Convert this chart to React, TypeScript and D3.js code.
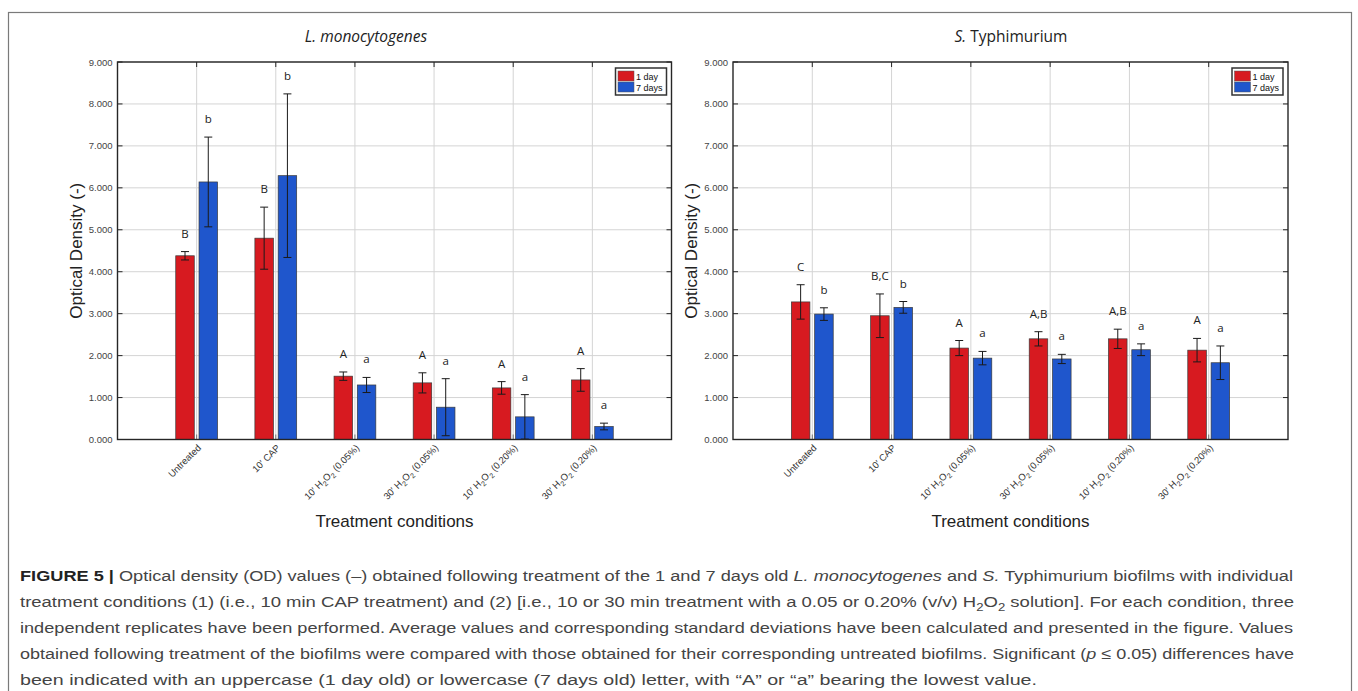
import * as d3 from 'd3';

// treatment conditions (x categories)
const conditions = ['Untreated', '10′ CAP', '10′ H2O2 (0.05%)', '30′ H2O2 (0.05%)', '10′ H2O2 (0.20%)', '30′ H2O2 (0.20%)'];
const yTicks = [0, 1, 2, 3, 4, 5, 6, 7, 8, 9];
const seriesNames = ['1 day', '7 days'];

// L. monocytogenes
const lmDay1 = [4.38, 4.8, 1.51, 1.35, 1.23, 1.42];
const lmDay1Sd = [0.1, 0.74, 0.1, 0.24, 0.15, 0.27];
const lmDay7 = [6.14, 6.29, 1.3, 0.77, 0.54, 0.31];
const lmDay7Sd = [1.07, 1.95, 0.18, 0.68, 0.53, 0.08];
const lmDay1Letters = ['B', 'B', 'A', 'A', 'A', 'A'];
const lmDay7Letters = ['b', 'b', 'a', 'a', 'a', 'a'];

// S. Typhimurium
const stDay1 = [3.28, 2.95, 2.18, 2.4, 2.4, 2.13];
const stDay1Sd = [0.41, 0.52, 0.18, 0.17, 0.23, 0.28];
const stDay7 = [2.99, 3.15, 1.94, 1.92, 2.14, 1.83];
const stDay7Sd = [0.15, 0.14, 0.16, 0.11, 0.14, 0.4];
const stDay1Letters = ['C', 'B,C', 'A', 'A,B', 'A,B', 'A'];
const stDay7Letters = ['b', 'b', 'a', 'a', 'a', 'a'];

const RED = '#d71a20';
const BLUE = '#1f56cc';
const SANS = '"Liberation Sans", Arial, sans-serif';
const HUM = '"Open Sans", "Noto Sans", sans-serif';

// label with H2O2 subscripts
const Chem = ({ text }) => {
  const parts = text.split('H2O2');
  if (parts.length === 1) return <>{text}</>;
  return (
    <>
      {parts[0]}H<tspan dy={3} fontSize="0.75em">2</tspan>
      <tspan dy={-3}>O</tspan>
      <tspan dy={3} fontSize="0.75em">2</tspan>
      <tspan dy={-3}>{parts[1]}</tspan>
    </>
  );
};

const Panel = ({ left, right, titleX, titleItalic, titleRest, day1, day1Sd, day7, day7Sd, l1, l7 }) => {
  const top = 62;
  const bottom = 439.5;
  const x = d3.scaleLinear().domain([0, conditions.length + 1]).range([left, right]);
  const y = d3.scaleLinear().domain([0, 9]).range([bottom, top]);
  const step = x(1) - x(0);
  const barW = step * 0.234;
  const gap = step * 0.03;
  const series = [
    { vals: day1, sd: day1Sd, letters: l1, color: RED, off: -gap - barW },
    { vals: day7, sd: day7Sd, letters: l7, color: BLUE, off: gap },
  ];
  const cx = (left + right) / 2;
  const cats = conditions.map((_, i) => i + 1);
  return (
    <g>
      <text x={titleX} y={42} textAnchor="middle" fontFamily={HUM} fontSize={15.5} fill="#222">
        <tspan fontStyle="italic">{titleItalic}</tspan>
        {titleRest}
      </text>
      {/* grid */}
      {yTicks.map((t) => (
        <line key={'h' + t} x1={left} x2={right} y1={y(t)} y2={y(t)} stroke="#d4d4d4" strokeWidth={1} />
      ))}
      {cats.map((c) => (
        <line key={'v' + c} x1={x(c)} x2={x(c)} y1={top} y2={bottom} stroke="#d4d4d4" strokeWidth={1} />
      ))}
      {/* bars */}
      {series.map((s, si) =>
        s.vals.map((v, i) => (
          <rect
            key={'b' + si + i}
            x={x(i + 1) + s.off}
            y={y(v)}
            width={barW}
            height={y(0) - y(v)}
            fill={s.color}
            stroke="#3a3a3a"
            strokeWidth={0.7}
          />
        ))
      )}
      {/* error bars */}
      {series.map((s, si) =>
        s.vals.map((v, i) => {
          const bx = x(i + 1) + s.off + barW / 2;
          const hi = y(v + s.sd[i]);
          const lo = y(Math.max(0, v - s.sd[i]));
          return (
            <g key={'e' + si + i} stroke="#1a1a1a" strokeWidth={1}>
              <line x1={bx} x2={bx} y1={hi} y2={lo} />
              <line x1={bx - 4} x2={bx + 4} y1={hi} y2={hi} />
              <line x1={bx - 4} x2={bx + 4} y1={lo} y2={lo} />
            </g>
          );
        })
      )}
      {/* letters */}
      {series.map((s, si) =>
        s.vals.map((v, i) => (
          <text
            key={'l' + si + i}
            x={x(i + 1) + s.off + barW / 2}
            y={y(v + s.sd[i]) - 14}
            textAnchor="middle"
            fontFamily={HUM}
            fontSize={11.5}
            fill="#222"
          >
            {s.letters[i]}
          </text>
        ))
      )}
      {/* ticks */}
      {cats.map((c) => (
        <g key={'t' + c} stroke="#262626" strokeWidth={1}>
          <line x1={x(c)} x2={x(c)} y1={top} y2={top + 5} />
          <line x1={x(c)} x2={x(c)} y1={bottom} y2={bottom - 5} stroke="#777" />
        </g>
      ))}
      {yTicks.map((t) => (
        <g key={'yt' + t} stroke="#262626" strokeWidth={1}>
          <line x1={left} x2={left + 5} y1={y(t)} y2={y(t)} />
          <line x1={right} x2={right - 5} y1={y(t)} y2={y(t)} />
        </g>
      ))}
      <rect x={left} y={top} width={right - left} height={bottom - top} fill="none" stroke="#262626" strokeWidth={1.4} />
      {/* y tick labels */}
      {yTicks.map((t) => (
        <text key={'yl' + t} x={left - 5} y={y(t) + 3.5} textAnchor="end" fontFamily={SANS} fontSize={9.5} fill="#444">
          {d3.format('.3f')(t)}
        </text>
      ))}
      {/* x tick labels */}
      {conditions.map((c, i) => (
        <text
          key={'xl' + i}
          transform={`translate(${x(i + 1) + 5},${bottom + 9}) rotate(-45)`}
          textAnchor="end"
          fontFamily={SANS}
          fontSize={9.5}
          fill="#333"
        >
          <Chem text={c} />
        </text>
      ))}
      <text
        transform={`translate(${left - 36},${(top + bottom) / 2}) rotate(-90)`}
        textAnchor="middle"
        fontFamily={SANS}
        fontSize={17}
        fill="#222"
      >
        Optical Density (-)
      </text>
      <text x={cx} y={527} textAnchor="middle" fontFamily={SANS} fontSize={17} fill="#222">
        Treatment conditions
      </text>
      {/* legend */}
      <g transform={`translate(${right - 56},${top + 6})`}>
        <rect x={0} y={0} width={51} height={27} fill="#fff" stroke="#333" strokeWidth={1.5} />
        {seriesNames.map((n, i) => (
          <g key={n} transform={`translate(2.5,${3 + i * 11})`}>
            <rect x={0} y={0} width={16} height={10} fill={i === 0 ? RED : BLUE} stroke="#555" strokeWidth={0.5} />
            <text x={18} y={8.5} fontFamily={SANS} fontSize={9} fill="#111">
              {n}
            </text>
          </g>
        ))}
      </g>
    </g>
  );
};

export default function App() {
  const capStyle = { fontFamily: SANS, fontSize: 15.5, fill: '#444' };
  const fit = 'spacingAndGlyphs';
  return (
    <svg width={1358} height={691} style={{ position: 'absolute', left: 0, top: 0, background: '#fff' }}>
      <rect x={8.5} y={12.5} width={1343} height={700} fill="#fff" stroke="#7a7a7a" strokeWidth={1.2} />
      <Panel
        left={117.5}
        right={671.5}
        titleX={366}
        titleItalic="L. monocytogenes"
        titleRest=""
        day1={lmDay1}
        day1Sd={lmDay1Sd}
        day7={lmDay7}
        day7Sd={lmDay7Sd}
        l1={lmDay1Letters}
        l7={lmDay7Letters}
      />
      <Panel
        left={733}
        right={1288}
        titleX={1011}
        titleItalic="S."
        titleRest=" Typhimurium"
        day1={stDay1}
        day1Sd={stDay1Sd}
        day7={stDay7}
        day7Sd={stDay7Sd}
        l1={stDay1Letters}
        l7={stDay7Letters}
      />
      <g style={capStyle}>
        <text x={20} y={581} textLength={1273} lengthAdjust={fit}>
          <tspan fontWeight="bold" fill="#222">FIGURE 5 | </tspan>
          Optical density (OD) values (–) obtained following treatment of the 1 and 7 days old{' '}
          <tspan fontStyle="italic">L. monocytogenes</tspan> and <tspan fontStyle="italic">S.</tspan> Typhimurium biofilms
          with individual
        </text>
        <text x={20} y={607} textLength={1274} lengthAdjust={fit}>
          treatment conditions (1) (i.e., 10 min CAP treatment) and (2) [i.e., 10 or 30 min treatment with a 0.05 or 0.20%
          (v/v) H<tspan dy={4} fontSize={11}>2</tspan>
          <tspan dy={-4}>O</tspan>
          <tspan dy={4} fontSize={11}>2</tspan>
          <tspan dy={-4}> solution]. For each condition, three</tspan>
        </text>
        <text x={20} y={633} textLength={1273} lengthAdjust={fit}>
          independent replicates have been performed. Average values and corresponding standard deviations have been
          calculated and presented in the figure. Values
        </text>
        <text x={20} y={659} textLength={1274} lengthAdjust={fit}>
          obtained following treatment of the biofilms were compared with those obtained for their corresponding untreated
          biofilms. Significant (<tspan fontStyle="italic">p</tspan> ≤ 0.05) differences have
        </text>
        <text x={20} y={685} textLength={1017} lengthAdjust={fit}>
          been indicated with an uppercase (1 day old) or lowercase (7 days old) letter, with “A” or “a” bearing the lowest
          value.
        </text>
      </g>
    </svg>
  );
}
